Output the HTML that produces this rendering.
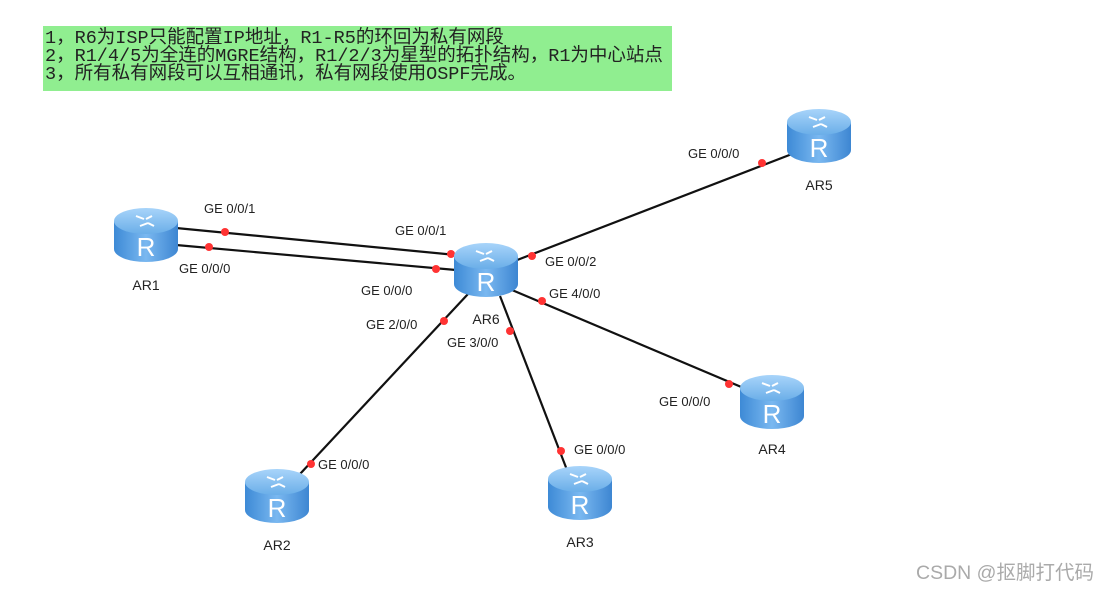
<!DOCTYPE html>
<html><head><meta charset="utf-8"><style>
body{margin:0;background:#fff;width:1111px;height:590px;overflow:hidden;}
svg{position:absolute;left:0;top:0}
.note{position:absolute;left:43px;top:26px;width:629px;height:65px;background:#90ee90;font-family:"Liberation Mono","Noto Sans CJK SC",monospace;font-size:18.5px;line-height:18px;color:#222;padding:4px 0 0 2px;box-sizing:border-box;white-space:nowrap;letter-spacing:0px;overflow:hidden}
</style></head><body>
<div class="note">1，R6为ISP只能配置IP地址，R1-R5的环回为私有网段<br>2，R1/4/5为全连的MGRE结构，R1/2/3为星型的拓扑结构，R1为中心站点<br>3，所有私有网段可以互相通讯，私有网段使用OSPF完成。</div>
<svg width="1111" height="590" font-family="Liberation Sans, Arial, sans-serif" font-size="13" fill="#222">
<defs>
<linearGradient id="g" x1="0" x2="1"><stop offset="0" stop-color="#3d8ad6"/><stop offset="0.5" stop-color="#7ab8f0"/><stop offset="1" stop-color="#3d86d2"/></linearGradient>
<linearGradient id="t" x1="0" y1="0" x2="0" y2="1"><stop offset="0" stop-color="#a8d4fa"/><stop offset="1" stop-color="#6aaee8"/></linearGradient>
<g id="r">
<path d="M0,13 L0,41 A32,13 0 0 0 64,41 L64,13 Z" fill="url(#g)"/>
<ellipse cx="32" cy="13" rx="32" ry="13" fill="url(#t)"/>
<path d="M22,8 l8,3 M26,18 l8,-3 M38,8 l-6,3 M40,18 l-6,-3" stroke="#fff" stroke-width="2" fill="none"/>
<text x="32" y="48" font-size="26" fill="#fff" text-anchor="middle" font-family="Liberation Sans">R</text>
</g>
</defs>
<g stroke="#111" stroke-width="2.2">
<line x1="176" y1="228" x2="456" y2="255"/>
<line x1="176" y1="245" x2="456" y2="270"/>
<line x1="512" y1="262" x2="792" y2="154"/>
<line x1="512" y1="290" x2="746" y2="389"/>
<line x1="468" y1="294" x2="300" y2="474"/>
<line x1="500" y1="296" x2="567" y2="470"/>
</g>
<g fill="#f33">
<circle cx="225" cy="232" r="4"/><circle cx="209" cy="247" r="4"/>
<circle cx="451" cy="254" r="4"/><circle cx="436" cy="269" r="4"/>
<circle cx="532" cy="256" r="4"/><circle cx="762" cy="163" r="4"/>
<circle cx="542" cy="301" r="4"/><circle cx="729" cy="384" r="4"/>
<circle cx="444" cy="321" r="4"/><circle cx="311" cy="464" r="4"/>
<circle cx="510" cy="331" r="4"/><circle cx="561" cy="451" r="4"/>
</g>
<use href="#r" x="114" y="208"/>
<use href="#r" x="454" y="243"/>
<use href="#r" x="787" y="109"/>
<use href="#r" x="740" y="375"/>
<use href="#r" x="245" y="469"/>
<use href="#r" x="548" y="466"/>
<g font-size="14" text-anchor="middle">
<text x="146" y="290">AR1</text>
<text x="486" y="324">AR6</text>
<text x="819" y="190">AR5</text>
<text x="772" y="454">AR4</text>
<text x="277" y="550">AR2</text>
<text x="580" y="547">AR3</text>
</g>
<g font-size="13">
<text x="204" y="213">GE 0/0/1</text>
<text x="179" y="273">GE 0/0/0</text>
<text x="395" y="235">GE 0/0/1</text>
<text x="361" y="295">GE 0/0/0</text>
<text x="545" y="266">GE 0/0/2</text>
<text x="549" y="298">GE 4/0/0</text>
<text x="366" y="329">GE 2/0/0</text>
<text x="447" y="347">GE 3/0/0</text>
<text x="688" y="158">GE 0/0/0</text>
<text x="659" y="406">GE 0/0/0</text>
<text x="318" y="469">GE 0/0/0</text>
<text x="574" y="454">GE 0/0/0</text>
</g>
<text x="916" y="579" font-size="19.5" fill="#aaa" font-family="Liberation Sans, Noto Sans CJK SC, sans-serif">CSDN @抠脚打代码</text>
</svg>
</body></html>
